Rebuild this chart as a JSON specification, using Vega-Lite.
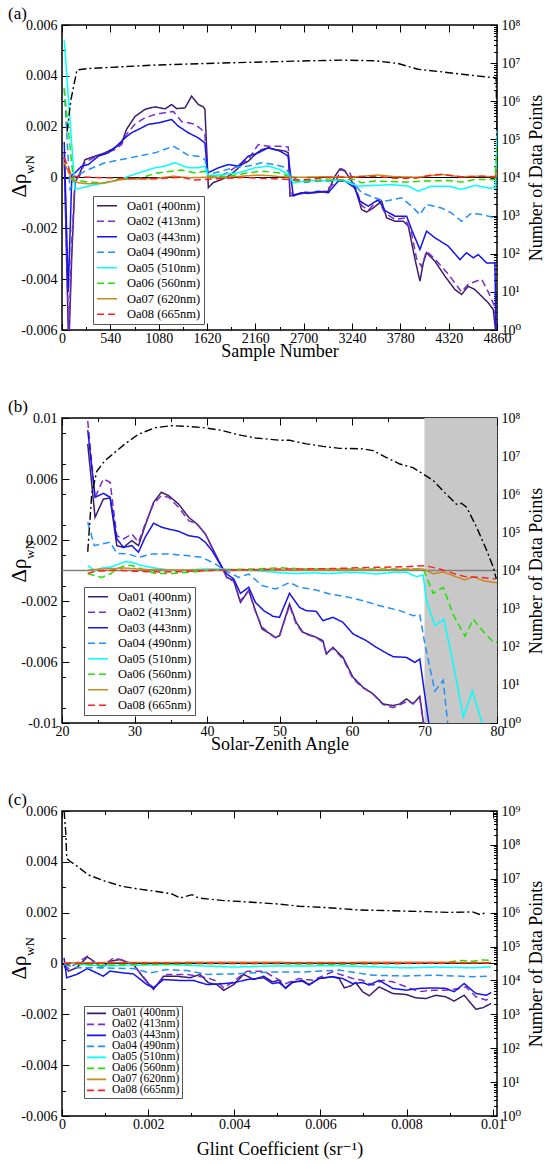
{
"$schema": "https://vega.github.io/schema/vega-lite/v6.json",
"padding": {"left": 7, "top": 4, "right": 0, "bottom": 0},
"config": {
  "font": "Liberation Serif, DejaVu Serif, serif",
  "view": {"stroke": "#000", "strokeWidth": 1.5},
  "axis": {"domain": false, "grid": false, "tickColor": "#000", "tickWidth": 1, "labelFont": "Liberation Serif, DejaVu Serif, serif", "labelFontSize": 14, "labelColor": "#000", "titleFont": "Liberation Serif, DejaVu Serif, serif", "titleFontSize": 18, "titleFontWeight": "normal", "titleColor": "#000", "labelFlush": false, "labelOverlap": false, "labelBound": false},
  "legend": {"labelFont": "Liberation Serif, DejaVu Serif, serif"},
  "title": {"font": "Liberation Serif, DejaVu Serif, serif", "fontSize": 17, "fontWeight": "normal", "anchor": "start", "color": "#000"}
},
"datasets": {
"sa": [
{"b":"Oa01 (400nm)","x":25,"y":0.0008},{"b":"Oa01 (400nm)","x":75,"y":-0.0068},{"b":"Oa01 (400nm)","x":110,"y":-0.003},{"b":"Oa01 (400nm)","x":145,"y":-0.0002},{"b":"Oa01 (400nm)","x":201,"y":0.00018},{"b":"Oa01 (400nm)","x":257,"y":0.0007},{"b":"Oa01 (400nm)","x":369,"y":0.00084},{"b":"Oa01 (400nm)","x":480,"y":0.00097},{"b":"Oa01 (400nm)","x":592,"y":0.00117},{"b":"Oa01 (400nm)","x":666,"y":0.00136},{"b":"Oa01 (400nm)","x":722,"y":0.0019},{"b":"Oa01 (400nm)","x":815,"y":0.0024},{"b":"Oa01 (400nm)","x":927,"y":0.00268},{"b":"Oa01 (400nm)","x":1039,"y":0.00278},{"b":"Oa01 (400nm)","x":1150,"y":0.0027},{"b":"Oa01 (400nm)","x":1225,"y":0.00287},{"b":"Oa01 (400nm)","x":1281,"y":0.00271},{"b":"Oa01 (400nm)","x":1374,"y":0.00274},{"b":"Oa01 (400nm)","x":1448,"y":0.0032},{"b":"Oa01 (400nm)","x":1523,"y":0.00287},{"b":"Oa01 (400nm)","x":1579,"y":0.00278},{"b":"Oa01 (400nm)","x":1597,"y":0.00268},{"b":"Oa01 (400nm)","x":1635,"y":-0.0004},{"b":"Oa01 (400nm)","x":1690,"y":-0.0002},{"b":"Oa01 (400nm)","x":1783,"y":-0.00008},{"b":"Oa01 (400nm)","x":1858,"y":0.00005},{"b":"Oa01 (400nm)","x":1932,"y":0.00025},{"b":"Oa01 (400nm)","x":2007,"y":0.0005},{"b":"Oa01 (400nm)","x":2081,"y":0.00064},{"b":"Oa01 (400nm)","x":2156,"y":0.0009},{"b":"Oa01 (400nm)","x":2230,"y":0.0011},{"b":"Oa01 (400nm)","x":2305,"y":0.00117},{"b":"Oa01 (400nm)","x":2379,"y":0.0011},{"b":"Oa01 (400nm)","x":2491,"y":0.00104},{"b":"Oa01 (400nm)","x":2528,"y":0.00097},{"b":"Oa01 (400nm)","x":2547,"y":-0.00073},{"b":"Oa01 (400nm)","x":2603,"y":-0.00067},{"b":"Oa01 (400nm)","x":2714,"y":-0.00058},{"b":"Oa01 (400nm)","x":2826,"y":-0.0006},{"b":"Oa01 (400nm)","x":2975,"y":-0.00054},{"b":"Oa01 (400nm)","x":3049,"y":0.00005},{"b":"Oa01 (400nm)","x":3105,"y":0.00034},{"b":"Oa01 (400nm)","x":3161,"y":0.00025},{"b":"Oa01 (400nm)","x":3236,"y":-0.00014},{"b":"Oa01 (400nm)","x":3291,"y":-0.0006},{"b":"Oa01 (400nm)","x":3347,"y":-0.00126},{"b":"Oa01 (400nm)","x":3403,"y":-0.00136},{"b":"Oa01 (400nm)","x":3478,"y":-0.0012},{"b":"Oa01 (400nm)","x":3571,"y":-0.00093},{"b":"Oa01 (400nm)","x":3627,"y":-0.00159},{"b":"Oa01 (400nm)","x":3720,"y":-0.00172},{"b":"Oa01 (400nm)","x":3813,"y":-0.00172},{"b":"Oa01 (400nm)","x":3869,"y":-0.00191},{"b":"Oa01 (400nm)","x":3943,"y":-0.0032},{"b":"Oa01 (400nm)","x":3999,"y":-0.00408},{"b":"Oa01 (400nm)","x":4036,"y":-0.00336},{"b":"Oa01 (400nm)","x":4073,"y":-0.00296},{"b":"Oa01 (400nm)","x":4166,"y":-0.00329},{"b":"Oa01 (400nm)","x":4278,"y":-0.00388},{"b":"Oa01 (400nm)","x":4390,"y":-0.00441},{"b":"Oa01 (400nm)","x":4464,"y":-0.0046},{"b":"Oa01 (400nm)","x":4539,"y":-0.00428},{"b":"Oa01 (400nm)","x":4613,"y":-0.00441},{"b":"Oa01 (400nm)","x":4688,"y":-0.00467},{"b":"Oa01 (400nm)","x":4762,"y":-0.00493},{"b":"Oa01 (400nm)","x":4818,"y":-0.00519},{"b":"Oa01 (400nm)","x":4844,"y":-0.006},{"b":"Oa01 (400nm)","x":4860,"y":-0.0075},
{"b":"Oa02 (413nm)","x":25,"y":0.001},{"b":"Oa02 (413nm)","x":75,"y":-0.0062},{"b":"Oa02 (413nm)","x":110,"y":-0.0025},{"b":"Oa02 (413nm)","x":145,"y":-0.0001},{"b":"Oa02 (413nm)","x":201,"y":0.0001},{"b":"Oa02 (413nm)","x":257,"y":0.0006},{"b":"Oa02 (413nm)","x":369,"y":0.0008},{"b":"Oa02 (413nm)","x":480,"y":0.00095},{"b":"Oa02 (413nm)","x":592,"y":0.0011},{"b":"Oa02 (413nm)","x":666,"y":0.0013},{"b":"Oa02 (413nm)","x":722,"y":0.0017},{"b":"Oa02 (413nm)","x":815,"y":0.0021},{"b":"Oa02 (413nm)","x":927,"y":0.00235},{"b":"Oa02 (413nm)","x":1039,"y":0.00248},{"b":"Oa02 (413nm)","x":1188,"y":0.00257},{"b":"Oa02 (413nm)","x":1244,"y":0.0026},{"b":"Oa02 (413nm)","x":1337,"y":0.0022},{"b":"Oa02 (413nm)","x":1411,"y":0.00215},{"b":"Oa02 (413nm)","x":1486,"y":0.00209},{"b":"Oa02 (413nm)","x":1560,"y":0.00189},{"b":"Oa02 (413nm)","x":1597,"y":0.00169},{"b":"Oa02 (413nm)","x":1627,"y":0.0001},{"b":"Oa02 (413nm)","x":1746,"y":0.00005},{"b":"Oa02 (413nm)","x":1858,"y":0.0002},{"b":"Oa02 (413nm)","x":1932,"y":0.0004},{"b":"Oa02 (413nm)","x":2081,"y":0.00071},{"b":"Oa02 (413nm)","x":2193,"y":0.0013},{"b":"Oa02 (413nm)","x":2305,"y":0.00123},{"b":"Oa02 (413nm)","x":2435,"y":0.00123},{"b":"Oa02 (413nm)","x":2528,"y":0.0012},{"b":"Oa02 (413nm)","x":2547,"y":-0.0006},{"b":"Oa02 (413nm)","x":2603,"y":-0.00067},{"b":"Oa02 (413nm)","x":2938,"y":-0.00054},{"b":"Oa02 (413nm)","x":3049,"y":-0.0002},{"b":"Oa02 (413nm)","x":3124,"y":0.00034},{"b":"Oa02 (413nm)","x":3217,"y":0.00018},{"b":"Oa02 (413nm)","x":3291,"y":-0.0005},{"b":"Oa02 (413nm)","x":3347,"y":-0.0011},{"b":"Oa02 (413nm)","x":3422,"y":-0.00129},{"b":"Oa02 (413nm)","x":3533,"y":-0.00087},{"b":"Oa02 (413nm)","x":3608,"y":-0.0014},{"b":"Oa02 (413nm)","x":3720,"y":-0.00165},{"b":"Oa02 (413nm)","x":3831,"y":-0.00159},{"b":"Oa02 (413nm)","x":3906,"y":-0.0022},{"b":"Oa02 (413nm)","x":3962,"y":-0.0032},{"b":"Oa02 (413nm)","x":4017,"y":-0.0035},{"b":"Oa02 (413nm)","x":4073,"y":-0.0029},{"b":"Oa02 (413nm)","x":4166,"y":-0.0032},{"b":"Oa02 (413nm)","x":4315,"y":-0.0038},{"b":"Oa02 (413nm)","x":4464,"y":-0.0045},{"b":"Oa02 (413nm)","x":4539,"y":-0.0042},{"b":"Oa02 (413nm)","x":4688,"y":-0.004},{"b":"Oa02 (413nm)","x":4762,"y":-0.0045},{"b":"Oa02 (413nm)","x":4837,"y":-0.0051},{"b":"Oa02 (413nm)","x":4860,"y":-0.0068},
{"b":"Oa03 (443nm)","x":25,"y":0.0014},{"b":"Oa03 (443nm)","x":70,"y":-0.0045},{"b":"Oa03 (443nm)","x":110,"y":0.0001},{"b":"Oa03 (443nm)","x":145,"y":0.00018},{"b":"Oa03 (443nm)","x":220,"y":0.00045},{"b":"Oa03 (443nm)","x":294,"y":0.00051},{"b":"Oa03 (443nm)","x":406,"y":0.00084},{"b":"Oa03 (443nm)","x":518,"y":0.00097},{"b":"Oa03 (443nm)","x":629,"y":0.0013},{"b":"Oa03 (443nm)","x":704,"y":0.00156},{"b":"Oa03 (443nm)","x":778,"y":0.00176},{"b":"Oa03 (443nm)","x":853,"y":0.00189},{"b":"Oa03 (443nm)","x":964,"y":0.00209},{"b":"Oa03 (443nm)","x":1076,"y":0.00215},{"b":"Oa03 (443nm)","x":1225,"y":0.00228},{"b":"Oa03 (443nm)","x":1299,"y":0.00202},{"b":"Oa03 (443nm)","x":1411,"y":0.00176},{"b":"Oa03 (443nm)","x":1523,"y":0.00156},{"b":"Oa03 (443nm)","x":1597,"y":0.00136},{"b":"Oa03 (443nm)","x":1627,"y":0.00018},{"b":"Oa03 (443nm)","x":1746,"y":0.00038},{"b":"Oa03 (443nm)","x":1858,"y":0.00051},{"b":"Oa03 (443nm)","x":1970,"y":0.00045},{"b":"Oa03 (443nm)","x":2081,"y":0.00084},{"b":"Oa03 (443nm)","x":2193,"y":0.00097},{"b":"Oa03 (443nm)","x":2305,"y":0.00117},{"b":"Oa03 (443nm)","x":2435,"y":0.00104},{"b":"Oa03 (443nm)","x":2528,"y":0.00084},{"b":"Oa03 (443nm)","x":2584,"y":-0.00073},{"b":"Oa03 (443nm)","x":2677,"y":-0.0006},{"b":"Oa03 (443nm)","x":2752,"y":-0.00063},{"b":"Oa03 (443nm)","x":2863,"y":-0.00054},{"b":"Oa03 (443nm)","x":2975,"y":-0.0006},{"b":"Oa03 (443nm)","x":3087,"y":-0.00014},{"b":"Oa03 (443nm)","x":3161,"y":-0.00014},{"b":"Oa03 (443nm)","x":3273,"y":-0.00041},{"b":"Oa03 (443nm)","x":3329,"y":-0.00093},{"b":"Oa03 (443nm)","x":3422,"y":-0.00113},{"b":"Oa03 (443nm)","x":3533,"y":-0.00087},{"b":"Oa03 (443nm)","x":3608,"y":-0.0013},{"b":"Oa03 (443nm)","x":3720,"y":-0.00152},{"b":"Oa03 (443nm)","x":3850,"y":-0.00152},{"b":"Oa03 (443nm)","x":3906,"y":-0.00205},{"b":"Oa03 (443nm)","x":3999,"y":-0.00283},{"b":"Oa03 (443nm)","x":4073,"y":-0.00211},{"b":"Oa03 (443nm)","x":4166,"y":-0.00237},{"b":"Oa03 (443nm)","x":4315,"y":-0.0027},{"b":"Oa03 (443nm)","x":4446,"y":-0.00323},{"b":"Oa03 (443nm)","x":4520,"y":-0.00296},{"b":"Oa03 (443nm)","x":4595,"y":-0.00316},{"b":"Oa03 (443nm)","x":4650,"y":-0.00303},{"b":"Oa03 (443nm)","x":4744,"y":-0.00336},{"b":"Oa03 (443nm)","x":4837,"y":-0.00336},{"b":"Oa03 (443nm)","x":4855,"y":-0.0075},
{"b":"Oa04 (490nm)","x":25,"y":0.0035},{"b":"Oa04 (490nm)","x":89,"y":-0.0005},{"b":"Oa04 (490nm)","x":145,"y":0.00005},{"b":"Oa04 (490nm)","x":294,"y":0.00031},{"b":"Oa04 (490nm)","x":480,"y":0.00058},{"b":"Oa04 (490nm)","x":666,"y":0.00071},{"b":"Oa04 (490nm)","x":853,"y":0.00084},{"b":"Oa04 (490nm)","x":1039,"y":0.00097},{"b":"Oa04 (490nm)","x":1244,"y":0.00123},{"b":"Oa04 (490nm)","x":1337,"y":0.00104},{"b":"Oa04 (490nm)","x":1411,"y":0.00087},{"b":"Oa04 (490nm)","x":1523,"y":0.00084},{"b":"Oa04 (490nm)","x":1597,"y":0.00071},{"b":"Oa04 (490nm)","x":1635,"y":0.00012},{"b":"Oa04 (490nm)","x":1783,"y":0.00025},{"b":"Oa04 (490nm)","x":1932,"y":0.0004},{"b":"Oa04 (490nm)","x":2081,"y":0.00045},{"b":"Oa04 (490nm)","x":2230,"y":0.00058},{"b":"Oa04 (490nm)","x":2379,"y":0.00051},{"b":"Oa04 (490nm)","x":2491,"y":0.0004},{"b":"Oa04 (490nm)","x":2565,"y":0.00005},{"b":"Oa04 (490nm)","x":2677,"y":-0.00021},{"b":"Oa04 (490nm)","x":2826,"y":-0.00014},{"b":"Oa04 (490nm)","x":3012,"y":-0.00014},{"b":"Oa04 (490nm)","x":3124,"y":-0.00008},{"b":"Oa04 (490nm)","x":3273,"y":-0.00028},{"b":"Oa04 (490nm)","x":3347,"y":-0.0006},{"b":"Oa04 (490nm)","x":3496,"y":-0.0008},{"b":"Oa04 (490nm)","x":3608,"y":-0.00093},{"b":"Oa04 (490nm)","x":3794,"y":-0.0008},{"b":"Oa04 (490nm)","x":3906,"y":-0.00113},{"b":"Oa04 (490nm)","x":3999,"y":-0.00146},{"b":"Oa04 (490nm)","x":4073,"y":-0.00106},{"b":"Oa04 (490nm)","x":4241,"y":-0.0012},{"b":"Oa04 (490nm)","x":4353,"y":-0.0014},{"b":"Oa04 (490nm)","x":4464,"y":-0.00172},{"b":"Oa04 (490nm)","x":4576,"y":-0.0014},{"b":"Oa04 (490nm)","x":4688,"y":-0.00146},{"b":"Oa04 (490nm)","x":4850,"y":-0.00159},
{"b":"Oa05 (510nm)","x":25,"y":0.0054},{"b":"Oa05 (510nm)","x":145,"y":-0.00047},{"b":"Oa05 (510nm)","x":294,"y":-0.00034},{"b":"Oa05 (510nm)","x":480,"y":-0.00021},{"b":"Oa05 (510nm)","x":666,"y":-0.00005},{"b":"Oa05 (510nm)","x":853,"y":0.00018},{"b":"Oa05 (510nm)","x":1039,"y":0.00038},{"b":"Oa05 (510nm)","x":1150,"y":0.00045},{"b":"Oa05 (510nm)","x":1262,"y":0.00058},{"b":"Oa05 (510nm)","x":1411,"y":0.00038},{"b":"Oa05 (510nm)","x":1523,"y":0.00038},{"b":"Oa05 (510nm)","x":1597,"y":0.00045},{"b":"Oa05 (510nm)","x":1635,"y":0.00005},{"b":"Oa05 (510nm)","x":1783,"y":0.00012},{"b":"Oa05 (510nm)","x":1970,"y":0.00018},{"b":"Oa05 (510nm)","x":2156,"y":0.00038},{"b":"Oa05 (510nm)","x":2305,"y":0.00045},{"b":"Oa05 (510nm)","x":2435,"y":0.00031},{"b":"Oa05 (510nm)","x":2528,"y":0.00012},{"b":"Oa05 (510nm)","x":2584,"y":-0.00021},{"b":"Oa05 (510nm)","x":2752,"y":-0.00012},{"b":"Oa05 (510nm)","x":2938,"y":-0.00012},{"b":"Oa05 (510nm)","x":3124,"y":-0.0001},{"b":"Oa05 (510nm)","x":3310,"y":-0.00034},{"b":"Oa05 (510nm)","x":3496,"y":-0.00031},{"b":"Oa05 (510nm)","x":3682,"y":-0.00028},{"b":"Oa05 (510nm)","x":3869,"y":-0.00034},{"b":"Oa05 (510nm)","x":3980,"y":-0.00054},{"b":"Oa05 (510nm)","x":4129,"y":-0.00034},{"b":"Oa05 (510nm)","x":4315,"y":-0.00034},{"b":"Oa05 (510nm)","x":4464,"y":-0.00047},{"b":"Oa05 (510nm)","x":4613,"y":-0.00031},{"b":"Oa05 (510nm)","x":4762,"y":-0.00041},{"b":"Oa05 (510nm)","x":4844,"y":-0.00041},{"b":"Oa05 (510nm)","x":4860,"y":0.0019},
{"b":"Oa06 (560nm)","x":25,"y":0.0035},{"b":"Oa06 (560nm)","x":127,"y":-0.0001},{"b":"Oa06 (560nm)","x":294,"y":-0.00018},{"b":"Oa06 (560nm)","x":480,"y":-0.00021},{"b":"Oa06 (560nm)","x":666,"y":-0.00005},{"b":"Oa06 (560nm)","x":853,"y":-0.00005},{"b":"Oa06 (560nm)","x":1039,"y":0.00016},{"b":"Oa06 (560nm)","x":1225,"y":0.00025},{"b":"Oa06 (560nm)","x":1337,"y":0.00029},{"b":"Oa06 (560nm)","x":1486,"y":0.00018},{"b":"Oa06 (560nm)","x":1597,"y":0.00025},{"b":"Oa06 (560nm)","x":1635,"y":0.00005},{"b":"Oa06 (560nm)","x":1858,"y":0.00005},{"b":"Oa06 (560nm)","x":2081,"y":0.00018},{"b":"Oa06 (560nm)","x":2230,"y":0.00025},{"b":"Oa06 (560nm)","x":2435,"y":0.00018},{"b":"Oa06 (560nm)","x":2528,"y":0.00005},{"b":"Oa06 (560nm)","x":2603,"y":-0.00014},{"b":"Oa06 (560nm)","x":2938,"y":-0.0001},{"b":"Oa06 (560nm)","x":3273,"y":-0.00008},{"b":"Oa06 (560nm)","x":3347,"y":-0.00021},{"b":"Oa06 (560nm)","x":3496,"y":-0.00014},{"b":"Oa06 (560nm)","x":3869,"y":-0.00018},{"b":"Oa06 (560nm)","x":4055,"y":-0.00014},{"b":"Oa06 (560nm)","x":4315,"y":-0.00012},{"b":"Oa06 (560nm)","x":4464,"y":-0.00018},{"b":"Oa06 (560nm)","x":4613,"y":-0.00008},{"b":"Oa06 (560nm)","x":4837,"y":-0.00008},{"b":"Oa06 (560nm)","x":4860,"y":0.0012},
{"b":"Oa07 (620nm)","x":25,"y":0.0006},{"b":"Oa07 (620nm)","x":108,"y":-0.00008},{"b":"Oa07 (620nm)","x":182,"y":-0.00021},{"b":"Oa07 (620nm)","x":294,"y":-0.00025},{"b":"Oa07 (620nm)","x":480,"y":-0.00021},{"b":"Oa07 (620nm)","x":666,"y":-0.00008},{"b":"Oa07 (620nm)","x":853,"y":-0.00005},{"b":"Oa07 (620nm)","x":1039,"y":-0.00004},{"b":"Oa07 (620nm)","x":1244,"y":0.00005},{"b":"Oa07 (620nm)","x":1411,"y":-0.00001},{"b":"Oa07 (620nm)","x":1597,"y":0.00001},{"b":"Oa07 (620nm)","x":1783,"y":-0.00001},{"b":"Oa07 (620nm)","x":2007,"y":0.00005},{"b":"Oa07 (620nm)","x":2156,"y":0.00009},{"b":"Oa07 (620nm)","x":2305,"y":0.00008},{"b":"Oa07 (620nm)","x":2435,"y":0.00003},{"b":"Oa07 (620nm)","x":2677,"y":0.00001},{"b":"Oa07 (620nm)","x":2938,"y":0.00003},{"b":"Oa07 (620nm)","x":3236,"y":0.00001},{"b":"Oa07 (620nm)","x":3533,"y":0.0001},{"b":"Oa07 (620nm)","x":3720,"y":0.00003},{"b":"Oa07 (620nm)","x":3980,"y":0.00001},{"b":"Oa07 (620nm)","x":4241,"y":0.00012},{"b":"Oa07 (620nm)","x":4446,"y":0.00003},{"b":"Oa07 (620nm)","x":4688,"y":0.00005},{"b":"Oa07 (620nm)","x":4837,"y":0.00003},{"b":"Oa07 (620nm)","x":4860,"y":0.0002},
{"b":"Oa08 (665nm)","x":25,"y":0.0008},{"b":"Oa08 (665nm)","x":108,"y":0.00005},{"b":"Oa08 (665nm)","x":294,"y":0.00001},{"b":"Oa08 (665nm)","x":666,"y":-0.00003},{"b":"Oa08 (665nm)","x":1039,"y":-0.00005},{"b":"Oa08 (665nm)","x":1337,"y":0.00001},{"b":"Oa08 (665nm)","x":1486,"y":-0.0001},{"b":"Oa08 (665nm)","x":1710,"y":-0.00005},{"b":"Oa08 (665nm)","x":2007,"y":0},{"b":"Oa08 (665nm)","x":2379,"y":-0.00005},{"b":"Oa08 (665nm)","x":2677,"y":-0.0001},{"b":"Oa08 (665nm)","x":2938,"y":-0.00001},{"b":"Oa08 (665nm)","x":3236,"y":0.00003},{"b":"Oa08 (665nm)","x":3496,"y":0.00005},{"b":"Oa08 (665nm)","x":3720,"y":-0.00003},{"b":"Oa08 (665nm)","x":3943,"y":-0.00003},{"b":"Oa08 (665nm)","x":4129,"y":0.0001},{"b":"Oa08 (665nm)","x":4241,"y":0.00012},{"b":"Oa08 (665nm)","x":4464,"y":0.00003},{"b":"Oa08 (665nm)","x":4688,"y":0.00005},{"b":"Oa08 (665nm)","x":4837,"y":0.00001},{"b":"Oa08 (665nm)","x":4860,"y":0.0003}
],
"na": [
{"x":56,"n":160000},{"x":100,"n":1100000},{"x":167,"n":6600000},{"x":290,"n":7200000},{"x":1040,"n":8900000},{"x":1600,"n":9800000},{"x":2435,"n":11000000},{"x":2750,"n":11500000},{"x":3127,"n":12000000},{"x":3497,"n":11500000},{"x":3754,"n":9800000},{"x":3977,"n":6900000},{"x":4245,"n":5900000},{"x":4469,"n":5100000},{"x":4760,"n":4300000},{"x":4850,"n":4100000},{"x":4860,"n":100000}
],
"sb": [
{"b":"Oa01 (400nm)","x":23.55,"y":0.0083},{"b":"Oa01 (400nm)","x":24.56,"y":0.00349},{"b":"Oa01 (400nm)","x":25.71,"y":0.00469},{"b":"Oa01 (400nm)","x":26.64,"y":0.00475},{"b":"Oa01 (400nm)","x":27.56,"y":0.00163},{"b":"Oa01 (400nm)","x":28.48,"y":0.00152},{"b":"Oa01 (400nm)","x":29.63,"y":0.00196},{"b":"Oa01 (400nm)","x":30.55,"y":0.00163},{"b":"Oa01 (400nm)","x":31.47,"y":0.00294},{"b":"Oa01 (400nm)","x":32.63,"y":0.00447},{"b":"Oa01 (400nm)","x":33.69,"y":0.00513},{"b":"Oa01 (400nm)","x":34.7,"y":0.00491},{"b":"Oa01 (400nm)","x":36.08,"y":0.00436},{"b":"Oa01 (400nm)","x":37.47,"y":0.00349},{"b":"Oa01 (400nm)","x":38.62,"y":0.00305},{"b":"Oa01 (400nm)","x":39.77,"y":0.0024},{"b":"Oa01 (400nm)","x":40.69,"y":0.00152},{"b":"Oa01 (400nm)","x":42.07,"y":0.00021},{"b":"Oa01 (400nm)","x":42.76,"y":-0.00045},{"b":"Oa01 (400nm)","x":43.69,"y":-0.00067},{"b":"Oa01 (400nm)","x":44.61,"y":-0.00209},{"b":"Oa01 (400nm)","x":45.76,"y":-0.0013},{"b":"Oa01 (400nm)","x":46.68,"y":-0.00263},{"b":"Oa01 (400nm)","x":47.6,"y":-0.00384},{"b":"Oa01 (400nm)","x":48.76,"y":-0.00416},{"b":"Oa01 (400nm)","x":49.45,"y":-0.0044},{"b":"Oa01 (400nm)","x":50.0,"y":-0.00427},{"b":"Oa01 (400nm)","x":51.38,"y":-0.0022},{"b":"Oa01 (400nm)","x":52.3,"y":-0.0034},{"b":"Oa01 (400nm)","x":53.23,"y":-0.00405},{"b":"Oa01 (400nm)","x":55.07,"y":-0.00438},{"b":"Oa01 (400nm)","x":55.99,"y":-0.0046},{"b":"Oa01 (400nm)","x":56.45,"y":-0.00548},{"b":"Oa01 (400nm)","x":57.37,"y":-0.00504},{"b":"Oa01 (400nm)","x":58.76,"y":-0.0057},{"b":"Oa01 (400nm)","x":60.14,"y":-0.007},{"b":"Oa01 (400nm)","x":61.52,"y":-0.00766},{"b":"Oa01 (400nm)","x":62.9,"y":-0.00809},{"b":"Oa01 (400nm)","x":64.29,"y":-0.00875},{"b":"Oa01 (400nm)","x":65.67,"y":-0.00886},{"b":"Oa01 (400nm)","x":66.59,"y":-0.00875},{"b":"Oa01 (400nm)","x":67.51,"y":-0.00842},{"b":"Oa01 (400nm)","x":68.43,"y":-0.00875},{"b":"Oa01 (400nm)","x":69.35,"y":-0.00826},{"b":"Oa01 (400nm)","x":69.82,"y":-0.00985},{"b":"Oa01 (400nm)","x":70.1,"y":-0.0105},
{"b":"Oa02 (413nm)","x":23.55,"y":0.0098},{"b":"Oa02 (413nm)","x":24.56,"y":0.0048},{"b":"Oa02 (413nm)","x":25.71,"y":0.006},{"b":"Oa02 (413nm)","x":26.64,"y":0.00578},{"b":"Oa02 (413nm)","x":27.56,"y":0.00228},{"b":"Oa02 (413nm)","x":28.48,"y":0.00207},{"b":"Oa02 (413nm)","x":29.63,"y":0.0024},{"b":"Oa02 (413nm)","x":30.55,"y":0.00185},{"b":"Oa02 (413nm)","x":31.47,"y":0.00305},{"b":"Oa02 (413nm)","x":32.63,"y":0.00436},{"b":"Oa02 (413nm)","x":33.69,"y":0.00491},{"b":"Oa02 (413nm)","x":34.7,"y":0.0048},{"b":"Oa02 (413nm)","x":36.08,"y":0.00414},{"b":"Oa02 (413nm)","x":37.47,"y":0.00327},{"b":"Oa02 (413nm)","x":38.62,"y":0.00305},{"b":"Oa02 (413nm)","x":39.77,"y":0.0024},{"b":"Oa02 (413nm)","x":40.69,"y":0.0015},{"b":"Oa02 (413nm)","x":42.07,"y":0.0002},{"b":"Oa02 (413nm)","x":42.76,"y":-0.0005},{"b":"Oa02 (413nm)","x":43.69,"y":-0.0007},{"b":"Oa02 (413nm)","x":44.61,"y":-0.002},{"b":"Oa02 (413nm)","x":45.76,"y":-0.0013},{"b":"Oa02 (413nm)","x":46.68,"y":-0.0027},{"b":"Oa02 (413nm)","x":47.6,"y":-0.0037},{"b":"Oa02 (413nm)","x":48.76,"y":-0.0042},{"b":"Oa02 (413nm)","x":49.45,"y":-0.0044},{"b":"Oa02 (413nm)","x":50.0,"y":-0.0043},{"b":"Oa02 (413nm)","x":51.38,"y":-0.0023},{"b":"Oa02 (413nm)","x":52.3,"y":-0.0035},{"b":"Oa02 (413nm)","x":53.23,"y":-0.0041},{"b":"Oa02 (413nm)","x":55.07,"y":-0.0044},{"b":"Oa02 (413nm)","x":55.99,"y":-0.0047},{"b":"Oa02 (413nm)","x":56.45,"y":-0.0054},{"b":"Oa02 (413nm)","x":57.37,"y":-0.0051},{"b":"Oa02 (413nm)","x":58.76,"y":-0.0058},{"b":"Oa02 (413nm)","x":60.14,"y":-0.0071},{"b":"Oa02 (413nm)","x":61.52,"y":-0.0077},{"b":"Oa02 (413nm)","x":62.9,"y":-0.0081},{"b":"Oa02 (413nm)","x":64.29,"y":-0.0088},{"b":"Oa02 (413nm)","x":65.67,"y":-0.009},{"b":"Oa02 (413nm)","x":66.59,"y":-0.0088},{"b":"Oa02 (413nm)","x":67.51,"y":-0.0086},{"b":"Oa02 (413nm)","x":68.43,"y":-0.0087},{"b":"Oa02 (413nm)","x":69.35,"y":-0.0084},{"b":"Oa02 (413nm)","x":69.82,"y":-0.0099},{"b":"Oa02 (413nm)","x":70.1,"y":-0.0105},
{"b":"Oa03 (443nm)","x":23.55,"y":0.0092},{"b":"Oa03 (443nm)","x":24.56,"y":0.0048},{"b":"Oa03 (443nm)","x":25.71,"y":0.00506},{"b":"Oa03 (443nm)","x":26.64,"y":0.0048},{"b":"Oa03 (443nm)","x":27.56,"y":0.00207},{"b":"Oa03 (443nm)","x":28.48,"y":0.00152},{"b":"Oa03 (443nm)","x":29.63,"y":0.00163},{"b":"Oa03 (443nm)","x":30.55,"y":0.0012},{"b":"Oa03 (443nm)","x":31.47,"y":0.00218},{"b":"Oa03 (443nm)","x":32.63,"y":0.0031},{"b":"Oa03 (443nm)","x":33.78,"y":0.00283},{"b":"Oa03 (443nm)","x":34.7,"y":0.00272},{"b":"Oa03 (443nm)","x":36.08,"y":0.00257},{"b":"Oa03 (443nm)","x":37.47,"y":0.00228},{"b":"Oa03 (443nm)","x":38.85,"y":0.00218},{"b":"Oa03 (443nm)","x":39.77,"y":0.00185},{"b":"Oa03 (443nm)","x":40.69,"y":0.0013},{"b":"Oa03 (443nm)","x":42.07,"y":0.00021},{"b":"Oa03 (443nm)","x":42.76,"y":-0.00023},{"b":"Oa03 (443nm)","x":43.69,"y":-0.00056},{"b":"Oa03 (443nm)","x":44.61,"y":-0.0015},{"b":"Oa03 (443nm)","x":45.76,"y":-0.0011},{"b":"Oa03 (443nm)","x":46.68,"y":-0.00209},{"b":"Oa03 (443nm)","x":47.83,"y":-0.00263},{"b":"Oa03 (443nm)","x":48.76,"y":-0.0029},{"b":"Oa03 (443nm)","x":49.08,"y":-0.003},{"b":"Oa03 (443nm)","x":50.0,"y":-0.00307},{"b":"Oa03 (443nm)","x":51.38,"y":-0.0015},{"b":"Oa03 (443nm)","x":52.76,"y":-0.00242},{"b":"Oa03 (443nm)","x":53.69,"y":-0.00263},{"b":"Oa03 (443nm)","x":55.07,"y":-0.00268},{"b":"Oa03 (443nm)","x":55.99,"y":-0.00329},{"b":"Oa03 (443nm)","x":57.37,"y":-0.00307},{"b":"Oa03 (443nm)","x":58.76,"y":-0.0034},{"b":"Oa03 (443nm)","x":60.14,"y":-0.00416},{"b":"Oa03 (443nm)","x":61.98,"y":-0.0046},{"b":"Oa03 (443nm)","x":63.36,"y":-0.00504},{"b":"Oa03 (443nm)","x":64.29,"y":-0.0053},{"b":"Oa03 (443nm)","x":65.67,"y":-0.00565},{"b":"Oa03 (443nm)","x":67.51,"y":-0.0057},{"b":"Oa03 (443nm)","x":68.66,"y":-0.00602},{"b":"Oa03 (443nm)","x":69.35,"y":-0.00581},{"b":"Oa03 (443nm)","x":70.05,"y":-0.0082},{"b":"Oa03 (443nm)","x":70.74,"y":-0.0105},
{"b":"Oa04 (490nm)","x":23.55,"y":0.00316},{"b":"Oa04 (490nm)","x":24.47,"y":0.00163},{"b":"Oa04 (490nm)","x":25.48,"y":0.00174},{"b":"Oa04 (490nm)","x":26.64,"y":0.00185},{"b":"Oa04 (490nm)","x":27.56,"y":0.00113},{"b":"Oa04 (490nm)","x":29.17,"y":0.00108},{"b":"Oa04 (490nm)","x":30.55,"y":0.00086},{"b":"Oa04 (490nm)","x":32.4,"y":0.00108},{"b":"Oa04 (490nm)","x":34.7,"y":0.00108},{"b":"Oa04 (490nm)","x":37.47,"y":0.00097},{"b":"Oa04 (490nm)","x":39.31,"y":0.00086},{"b":"Oa04 (490nm)","x":41.15,"y":0.00043},{"b":"Oa04 (490nm)","x":42.53,"y":0},{"b":"Oa04 (490nm)","x":44.38,"y":-0.00045},{"b":"Oa04 (490nm)","x":45.76,"y":-0.00023},{"b":"Oa04 (490nm)","x":47.6,"y":-0.00099},{"b":"Oa04 (490nm)","x":49.45,"y":-0.00121},{"b":"Oa04 (490nm)","x":50.0,"y":-0.0011},{"b":"Oa04 (490nm)","x":51.38,"y":-0.00078},{"b":"Oa04 (490nm)","x":52.76,"y":-0.0011},{"b":"Oa04 (490nm)","x":55.07,"y":-0.00128},{"b":"Oa04 (490nm)","x":56.91,"y":-0.00154},{"b":"Oa04 (490nm)","x":59.22,"y":-0.00172},{"b":"Oa04 (490nm)","x":61.52,"y":-0.00198},{"b":"Oa04 (490nm)","x":63.82,"y":-0.00231},{"b":"Oa04 (490nm)","x":66.59,"y":-0.00263},{"b":"Oa04 (490nm)","x":68.43,"y":-0.00296},{"b":"Oa04 (490nm)","x":69.35,"y":-0.0029},{"b":"Oa04 (490nm)","x":70.05,"y":-0.00482},{"b":"Oa04 (490nm)","x":71.43,"y":-0.0079},{"b":"Oa04 (490nm)","x":72.58,"y":-0.0072},{"b":"Oa04 (490nm)","x":73.3,"y":-0.0105},
{"b":"Oa05 (510nm)","x":23.55,"y":0.00032},{"b":"Oa05 (510nm)","x":24.56,"y":0},{"b":"Oa05 (510nm)","x":25.48,"y":0.00016},{"b":"Oa05 (510nm)","x":26.64,"y":0.00021},{"b":"Oa05 (510nm)","x":28.71,"y":0.00058},{"b":"Oa05 (510nm)","x":29.63,"y":0.00054},{"b":"Oa05 (510nm)","x":31.01,"y":0.00032},{"b":"Oa05 (510nm)","x":32.86,"y":0.00016},{"b":"Oa05 (510nm)","x":34.7,"y":0.00005},{"b":"Oa05 (510nm)","x":37.47,"y":0.00005},{"b":"Oa05 (510nm)","x":39.77,"y":0.0001},{"b":"Oa05 (510nm)","x":42.07,"y":0.0001},{"b":"Oa05 (510nm)","x":44.38,"y":0.00005},{"b":"Oa05 (510nm)","x":46.68,"y":-0.00001},{"b":"Oa05 (510nm)","x":49.45,"y":-0.00012},{"b":"Oa05 (510nm)","x":50.0,"y":-0.00015},{"b":"Oa05 (510nm)","x":52.3,"y":-0.0002},{"b":"Oa05 (510nm)","x":54.6,"y":-0.00015},{"b":"Oa05 (510nm)","x":56.9,"y":-0.0002},{"b":"Oa05 (510nm)","x":59.2,"y":-0.00012},{"b":"Oa05 (510nm)","x":61.5,"y":-0.00015},{"b":"Oa05 (510nm)","x":63.4,"y":-0.00023},{"b":"Oa05 (510nm)","x":65.7,"y":-0.00012},{"b":"Oa05 (510nm)","x":67.5,"y":-0.00012},{"b":"Oa05 (510nm)","x":68.9,"y":-0.0004},{"b":"Oa05 (510nm)","x":69.82,"y":-0.0003},{"b":"Oa05 (510nm)","x":70.28,"y":-0.002},{"b":"Oa05 (510nm)","x":71.43,"y":-0.0036},{"b":"Oa05 (510nm)","x":72.67,"y":-0.0032},{"b":"Oa05 (510nm)","x":73.96,"y":-0.0061},{"b":"Oa05 (510nm)","x":75.35,"y":-0.0096},{"b":"Oa05 (510nm)","x":76.6,"y":-0.0079},{"b":"Oa05 (510nm)","x":77.88,"y":-0.0099},{"b":"Oa05 (510nm)","x":78.5,"y":-0.0105},
{"b":"Oa06 (560nm)","x":23.55,"y":-0.0002},{"b":"Oa06 (560nm)","x":24.56,"y":-0.00034},{"b":"Oa06 (560nm)","x":25.48,"y":-0.00045},{"b":"Oa06 (560nm)","x":26.64,"y":-0.00023},{"b":"Oa06 (560nm)","x":27.56,"y":0.0001},{"b":"Oa06 (560nm)","x":28.71,"y":0.00032},{"b":"Oa06 (560nm)","x":29.63,"y":0.00032},{"b":"Oa06 (560nm)","x":31.01,"y":0.0001},{"b":"Oa06 (560nm)","x":32.86,"y":-0.00019},{"b":"Oa06 (560nm)","x":35.16,"y":-0.00019},{"b":"Oa06 (560nm)","x":37.47,"y":-0.00012},{"b":"Oa06 (560nm)","x":39.77,"y":-0.00001},{"b":"Oa06 (560nm)","x":42.07,"y":0.00003},{"b":"Oa06 (560nm)","x":44.38,"y":0.00008},{"b":"Oa06 (560nm)","x":46.68,"y":0.0001},{"b":"Oa06 (560nm)","x":50.0,"y":0.00018},{"b":"Oa06 (560nm)","x":53.69,"y":0.0001},{"b":"Oa06 (560nm)","x":58.29,"y":0.0001},{"b":"Oa06 (560nm)","x":62.9,"y":0.0001},{"b":"Oa06 (560nm)","x":67.51,"y":0.0001},{"b":"Oa06 (560nm)","x":69.82,"y":0.0001},{"b":"Oa06 (560nm)","x":71.2,"y":-0.0015},{"b":"Oa06 (560nm)","x":72.58,"y":-0.0011},{"b":"Oa06 (560nm)","x":73.96,"y":-0.0029},{"b":"Oa06 (560nm)","x":75.58,"y":-0.0043},{"b":"Oa06 (560nm)","x":76.73,"y":-0.0032},{"b":"Oa06 (560nm)","x":78.11,"y":-0.004},{"b":"Oa06 (560nm)","x":79.49,"y":-0.0047},{"b":"Oa06 (560nm)","x":80,"y":-0.0047},
{"b":"Oa07 (620nm)","x":23.55,"y":0.00003},{"b":"Oa07 (620nm)","x":25.48,"y":0.0001},{"b":"Oa07 (620nm)","x":28.71,"y":0.00016},{"b":"Oa07 (620nm)","x":31,"y":0.00008},{"b":"Oa07 (620nm)","x":35,"y":0.00003},{"b":"Oa07 (620nm)","x":40,"y":0.00003},{"b":"Oa07 (620nm)","x":45,"y":0.00003},{"b":"Oa07 (620nm)","x":50,"y":0.00003},{"b":"Oa07 (620nm)","x":55,"y":0.00003},{"b":"Oa07 (620nm)","x":60,"y":0.00005},{"b":"Oa07 (620nm)","x":65,"y":0.00005},{"b":"Oa07 (620nm)","x":69.8,"y":0.0001},{"b":"Oa07 (620nm)","x":70.5,"y":-0.00005},{"b":"Oa07 (620nm)","x":71.2,"y":-0.00021},{"b":"Oa07 (620nm)","x":72.58,"y":-0.0001},{"b":"Oa07 (620nm)","x":73.96,"y":-0.00034},{"b":"Oa07 (620nm)","x":75.58,"y":-0.00062},{"b":"Oa07 (620nm)","x":76.73,"y":-0.0004},{"b":"Oa07 (620nm)","x":78.11,"y":-0.00067},{"b":"Oa07 (620nm)","x":79.49,"y":-0.00078},{"b":"Oa07 (620nm)","x":80,"y":-0.0008},
{"b":"Oa08 (665nm)","x":23.55,"y":-0.00019},{"b":"Oa08 (665nm)","x":24.56,"y":-0.00005},{"b":"Oa08 (665nm)","x":27.33,"y":0.00003},{"b":"Oa08 (665nm)","x":30.09,"y":-0.00005},{"b":"Oa08 (665nm)","x":33.78,"y":-0.0001},{"b":"Oa08 (665nm)","x":37.47,"y":-0.00005},{"b":"Oa08 (665nm)","x":42.07,"y":0.00003},{"b":"Oa08 (665nm)","x":46.68,"y":0.00005},{"b":"Oa08 (665nm)","x":50,"y":0.0001},{"b":"Oa08 (665nm)","x":53.69,"y":0.0001},{"b":"Oa08 (665nm)","x":58.29,"y":0.00014},{"b":"Oa08 (665nm)","x":62.9,"y":0.0002},{"b":"Oa08 (665nm)","x":67.51,"y":0.00025},{"b":"Oa08 (665nm)","x":70.05,"y":0.00032},{"b":"Oa08 (665nm)","x":72.12,"y":0.0001},{"b":"Oa08 (665nm)","x":73.96,"y":-0.00019},{"b":"Oa08 (665nm)","x":75.58,"y":-0.0004},{"b":"Oa08 (665nm)","x":77.65,"y":-0.00045},{"b":"Oa08 (665nm)","x":79.72,"y":-0.00056}
],
"nb": [
{"x":23.55,"n":31000},{"x":24.1,"n":1000000},{"x":24.8,"n":4000000},{"x":25.9,"n":7600000},{"x":27.3,"n":12600000},{"x":28.7,"n":21000000},{"x":30.6,"n":38000000},{"x":32.9,"n":56000000},{"x":35.2,"n":63000000},{"x":37.5,"n":60000000},{"x":39.8,"n":55000000},{"x":42.1,"n":47000000},{"x":44.4,"n":36000000},{"x":46.7,"n":30000000},{"x":50.1,"n":26000000},{"x":51.4,"n":26000000},{"x":53.7,"n":21000000},{"x":56,"n":18000000},{"x":58.3,"n":16000000},{"x":61.5,"n":15500000},{"x":62.9,"n":14000000},{"x":64.7,"n":9300000},{"x":66.6,"n":6200000},{"x":68.4,"n":5000000},{"x":69.8,"n":3400000},{"x":71.2,"n":2300000},{"x":72.8,"n":1100000},{"x":74.4,"n":550000},{"x":75.1,"n":580000},{"x":75.8,"n":460000},{"x":77.2,"n":135000},{"x":78.6,"n":33000},{"x":79.5,"n":12000},{"x":79.9,"n":6000}
],
"sc": [
{"b":"Oa01 (400nm)","x":0.000047,"y":-0.0001},{"b":"Oa01 (400nm)","x":0.000148,"y":-0.0003},{"b":"Oa01 (400nm)","x":0.000341,"y":-0.00017},{"b":"Oa01 (400nm)","x":0.000589,"y":0.00026},{"b":"Oa01 (400nm)","x":0.000728,"y":0.0001},{"b":"Oa01 (400nm)","x":0.000923,"y":-0.00017},{"b":"Oa01 (400nm)","x":0.001113,"y":0.00009},{"b":"Oa01 (400nm)","x":0.001345,"y":0.00016},{"b":"Oa01 (400nm)","x":0.001659,"y":-0.00004},{"b":"Oa01 (400nm)","x":0.001892,"y":-0.00056},{"b":"Oa01 (400nm)","x":0.002124,"y":-0.00102},{"b":"Oa01 (400nm)","x":0.002357,"y":-0.0005},{"b":"Oa01 (400nm)","x":0.002671,"y":-0.0005},{"b":"Oa01 (400nm)","x":0.002974,"y":-0.00056},{"b":"Oa01 (400nm)","x":0.003207,"y":-0.00043},{"b":"Oa01 (400nm)","x":0.003399,"y":-0.00076},{"b":"Oa01 (400nm)","x":0.003601,"y":-0.00083},{"b":"Oa01 (400nm)","x":0.003753,"y":-0.00106},{"b":"Oa01 (400nm)","x":0.003986,"y":-0.00083},{"b":"Oa01 (400nm)","x":0.004218,"y":-0.00043},{"b":"Oa01 (400nm)","x":0.004451,"y":-0.00063},{"b":"Oa01 (400nm)","x":0.004684,"y":-0.0005},{"b":"Oa01 (400nm)","x":0.004886,"y":-0.00072},{"b":"Oa01 (400nm)","x":0.005038,"y":-0.00066},{"b":"Oa01 (400nm)","x":0.00519,"y":-0.00098},{"b":"Oa01 (400nm)","x":0.005351,"y":-0.00075},{"b":"Oa01 (400nm)","x":0.005584,"y":-0.00066},{"b":"Oa01 (400nm)","x":0.005736,"y":-0.00083},{"b":"Oa01 (400nm)","x":0.005968,"y":-0.00059},{"b":"Oa01 (400nm)","x":0.006282,"y":-0.00052},{"b":"Oa01 (400nm)","x":0.006434,"y":-0.00059},{"b":"Oa01 (400nm)","x":0.006555,"y":-0.00096},{"b":"Oa01 (400nm)","x":0.006707,"y":-0.00088},{"b":"Oa01 (400nm)","x":0.006818,"y":-0.00075},{"b":"Oa01 (400nm)","x":0.00698,"y":-0.00111},{"b":"Oa01 (400nm)","x":0.007132,"y":-0.00127},{"b":"Oa01 (400nm)","x":0.007364,"y":-0.00092},{"b":"Oa01 (400nm)","x":0.007678,"y":-0.00118},{"b":"Oa01 (400nm)","x":0.007992,"y":-0.00122},{"b":"Oa01 (400nm)","x":0.008214,"y":-0.00135},{"b":"Oa01 (400nm)","x":0.008447,"y":-0.00138},{"b":"Oa01 (400nm)","x":0.00868,"y":-0.00125},{"b":"Oa01 (400nm)","x":0.008912,"y":-0.00131},{"b":"Oa01 (400nm)","x":0.009104,"y":-0.00148},{"b":"Oa01 (400nm)","x":0.009337,"y":-0.00125},{"b":"Oa01 (400nm)","x":0.00961,"y":-0.0018},{"b":"Oa01 (400nm)","x":0.009772,"y":-0.00174},{"b":"Oa01 (400nm)","x":0.009964,"y":-0.00157},
{"b":"Oa02 (413nm)","x":0.000047,"y":-0.00004},{"b":"Oa02 (413nm)","x":0.000148,"y":-0.0002},{"b":"Oa02 (413nm)","x":0.000589,"y":0.00029},{"b":"Oa02 (413nm)","x":0.000884,"y":-0.00017},{"b":"Oa02 (413nm)","x":0.001194,"y":0.00022},{"b":"Oa02 (413nm)","x":0.001426,"y":0.00012},{"b":"Oa02 (413nm)","x":0.001659,"y":-0.00004},{"b":"Oa02 (413nm)","x":0.001973,"y":-0.0007},{"b":"Oa02 (413nm)","x":0.002124,"y":-0.00096},{"b":"Oa02 (413nm)","x":0.002438,"y":-0.00043},{"b":"Oa02 (413nm)","x":0.002903,"y":-0.00043},{"b":"Oa02 (413nm)","x":0.003369,"y":-0.00056},{"b":"Oa02 (413nm)","x":0.003601,"y":-0.0007},{"b":"Oa02 (413nm)","x":0.003753,"y":-0.00096},{"b":"Oa02 (413nm)","x":0.003986,"y":-0.0007},{"b":"Oa02 (413nm)","x":0.004299,"y":-0.0003},{"b":"Oa02 (413nm)","x":0.004684,"y":-0.0003},{"b":"Oa02 (413nm)","x":0.004886,"y":-0.0005},{"b":"Oa02 (413nm)","x":0.00519,"y":-0.00079},{"b":"Oa02 (413nm)","x":0.005503,"y":-0.00059},{"b":"Oa02 (413nm)","x":0.005817,"y":-0.00066},{"b":"Oa02 (413nm)","x":0.006282,"y":-0.00033},{"b":"Oa02 (413nm)","x":0.006515,"y":-0.00046},{"b":"Oa02 (413nm)","x":0.006747,"y":-0.00059},{"b":"Oa02 (413nm)","x":0.00698,"y":-0.00066},{"b":"Oa02 (413nm)","x":0.007213,"y":-0.00085},{"b":"Oa02 (413nm)","x":0.007445,"y":-0.00066},{"b":"Oa02 (413nm)","x":0.007678,"y":-0.00072},{"b":"Oa02 (413nm)","x":0.007992,"y":-0.00092},{"b":"Oa02 (413nm)","x":0.008295,"y":-0.00111},{"b":"Oa02 (413nm)","x":0.008609,"y":-0.00105},{"b":"Oa02 (413nm)","x":0.008912,"y":-0.00105},{"b":"Oa02 (413nm)","x":0.009226,"y":-0.00098},{"b":"Oa02 (413nm)","x":0.009377,"y":-0.00092},{"b":"Oa02 (413nm)","x":0.00961,"y":-0.00131},{"b":"Oa02 (413nm)","x":0.009853,"y":-0.00144},{"b":"Oa02 (413nm)","x":0.009964,"y":-0.00131},
{"b":"Oa03 (443nm)","x":0.000047,"y":0.00022},{"b":"Oa03 (443nm)","x":0.000108,"y":-0.00056},{"b":"Oa03 (443nm)","x":0.000341,"y":-0.00043},{"b":"Oa03 (443nm)","x":0.000589,"y":-0.0002},{"b":"Oa03 (443nm)","x":0.000806,"y":-0.00037},{"b":"Oa03 (443nm)","x":0.000961,"y":-0.0005},{"b":"Oa03 (443nm)","x":0.001113,"y":-0.0003},{"b":"Oa03 (443nm)","x":0.001426,"y":-0.00037},{"b":"Oa03 (443nm)","x":0.001659,"y":-0.00041},{"b":"Oa03 (443nm)","x":0.001973,"y":-0.00083},{"b":"Oa03 (443nm)","x":0.002124,"y":-0.00096},{"b":"Oa03 (443nm)","x":0.002357,"y":-0.00063},{"b":"Oa03 (443nm)","x":0.002741,"y":-0.00067},{"b":"Oa03 (443nm)","x":0.003055,"y":-0.00067},{"b":"Oa03 (443nm)","x":0.003369,"y":-0.00083},{"b":"Oa03 (443nm)","x":0.003672,"y":-0.0008},{"b":"Oa03 (443nm)","x":0.003986,"y":-0.00076},{"b":"Oa03 (443nm)","x":0.004299,"y":-0.00063},{"b":"Oa03 (443nm)","x":0.004684,"y":-0.00056},{"b":"Oa03 (443nm)","x":0.004886,"y":-0.00079},{"b":"Oa03 (443nm)","x":0.005038,"y":-0.00075},{"b":"Oa03 (443nm)","x":0.00519,"y":-0.00096},{"b":"Oa03 (443nm)","x":0.005351,"y":-0.00072},{"b":"Oa03 (443nm)","x":0.005584,"y":-0.0007},{"b":"Oa03 (443nm)","x":0.005736,"y":-0.00085},{"b":"Oa03 (443nm)","x":0.005968,"y":-0.00059},{"b":"Oa03 (443nm)","x":0.006282,"y":-0.00052},{"b":"Oa03 (443nm)","x":0.006515,"y":-0.00059},{"b":"Oa03 (443nm)","x":0.006747,"y":-0.00079},{"b":"Oa03 (443nm)","x":0.00698,"y":-0.00075},{"b":"Oa03 (443nm)","x":0.007132,"y":-0.00085},{"b":"Oa03 (443nm)","x":0.007364,"y":-0.00066},{"b":"Oa03 (443nm)","x":0.007678,"y":-0.00098},{"b":"Oa03 (443nm)","x":0.007992,"y":-0.00105},{"b":"Oa03 (443nm)","x":0.008295,"y":-0.00098},{"b":"Oa03 (443nm)","x":0.008609,"y":-0.00096},{"b":"Oa03 (443nm)","x":0.008912,"y":-0.00098},{"b":"Oa03 (443nm)","x":0.009104,"y":-0.00111},{"b":"Oa03 (443nm)","x":0.009337,"y":-0.00079},{"b":"Oa03 (443nm)","x":0.00961,"y":-0.00118},{"b":"Oa03 (443nm)","x":0.009853,"y":-0.00125},{"b":"Oa03 (443nm)","x":0.009964,"y":-0.00114},
{"b":"Oa04 (490nm)","x":0.000047,"y":-0.00004},{"b":"Oa04 (490nm)","x":0.000341,"y":-0.00017},{"b":"Oa04 (490nm)","x":0.000884,"y":-0.00017},{"b":"Oa04 (490nm)","x":0.001659,"y":-0.0002},{"b":"Oa04 (490nm)","x":0.002043,"y":-0.00037},{"b":"Oa04 (490nm)","x":0.002438,"y":-0.00024},{"b":"Oa04 (490nm)","x":0.002903,"y":-0.00028},{"b":"Oa04 (490nm)","x":0.003369,"y":-0.00043},{"b":"Oa04 (490nm)","x":0.003986,"y":-0.00041},{"b":"Oa04 (490nm)","x":0.004886,"y":-0.00033},{"b":"Oa04 (490nm)","x":0.005655,"y":-0.00033},{"b":"Oa04 (490nm)","x":0.006434,"y":-0.00026},{"b":"Oa04 (490nm)","x":0.007213,"y":-0.00046},{"b":"Oa04 (490nm)","x":0.007992,"y":-0.00049},{"b":"Oa04 (490nm)","x":0.00868,"y":-0.00046},{"b":"Oa04 (490nm)","x":0.009539,"y":-0.00052},{"b":"Oa04 (490nm)","x":0.009964,"y":-0.00049},
{"b":"Oa05 (510nm)","x":0.000047,"y":0.00003},{"b":"Oa05 (510nm)","x":0.000884,"y":-0.0001},{"b":"Oa05 (510nm)","x":0.001659,"y":-0.00007},{"b":"Oa05 (510nm)","x":0.002438,"y":-0.00004},{"b":"Oa05 (510nm)","x":0.003369,"y":-0.0001},{"b":"Oa05 (510nm)","x":0.003986,"y":-0.00014},{"b":"Oa05 (510nm)","x":0.004886,"y":-0.0001},{"b":"Oa05 (510nm)","x":0.006434,"y":-0.00009},{"b":"Oa05 (510nm)","x":0.007992,"y":-0.00017},{"b":"Oa05 (510nm)","x":0.00868,"y":-0.00014},{"b":"Oa05 (510nm)","x":0.009539,"y":-0.00017},{"b":"Oa05 (510nm)","x":0.009964,"y":-0.00013},
{"b":"Oa06 (560nm)","x":0.000047,"y":0},{"b":"Oa06 (560nm)","x":0.000884,"y":-0.00007},{"b":"Oa06 (560nm)","x":0.001659,"y":-0.00004},{"b":"Oa06 (560nm)","x":0.002438,"y":-0.00004},{"b":"Oa06 (560nm)","x":0.003207,"y":-0.00001},{"b":"Oa06 (560nm)","x":0.004886,"y":-0.00001},{"b":"Oa06 (560nm)","x":0.006434,"y":-0.00003},{"b":"Oa06 (560nm)","x":0.008214,"y":0},{"b":"Oa06 (560nm)","x":0.008912,"y":0.00004},{"b":"Oa06 (560nm)","x":0.009226,"y":0.00012},{"b":"Oa06 (560nm)","x":0.009539,"y":0.00009},{"b":"Oa06 (560nm)","x":0.009772,"y":0.00014},{"b":"Oa06 (560nm)","x":0.009964,"y":0.00012},
{"b":"Oa07 (620nm)","x":0.00005,"y":0.00003},{"b":"Oa07 (620nm)","x":0.002,"y":0.00004},{"b":"Oa07 (620nm)","x":0.004,"y":0.00005},{"b":"Oa07 (620nm)","x":0.006,"y":0.00004},{"b":"Oa07 (620nm)","x":0.008,"y":0.00005},{"b":"Oa07 (620nm)","x":0.009964,"y":0.00004},
{"b":"Oa08 (665nm)","x":0.00005,"y":0.00001},{"b":"Oa08 (665nm)","x":0.002,"y":0.00002},{"b":"Oa08 (665nm)","x":0.004,"y":0.00001},{"b":"Oa08 (665nm)","x":0.006,"y":0.00002},{"b":"Oa08 (665nm)","x":0.008,"y":0.00001},{"b":"Oa08 (665nm)","x":0.009964,"y":0.00002}
],
"nc": [
{"x":0.00005,"n":1000000000},{"x":0.00009,"n":200000000},{"x":0.00011,"n":40000000},{"x":0.000186,"n":33000000},{"x":0.000342,"n":24000000},{"x":0.000612,"n":13000000},{"x":0.001,"n":8500000},{"x":0.00139,"n":6000000},{"x":0.00177,"n":5000000},{"x":0.00216,"n":4300000},{"x":0.00255,"n":3600000},{"x":0.00274,"n":2700000},{"x":0.00302,"n":3400000},{"x":0.00317,"n":2700000},{"x":0.00371,"n":2300000},{"x":0.00449,"n":2000000},{"x":0.00503,"n":1800000},{"x":0.0055,"n":1550000},{"x":0.00619,"n":1400000},{"x":0.00689,"n":1200000},{"x":0.00767,"n":1140000},{"x":0.00844,"n":1070000},{"x":0.00898,"n":1020000},{"x":0.00953,"n":1050000},{"x":0.00972,"n":870000},{"x":0.00984,"n":1020000}
]
},
"resolve": {"scale": {"x": "independent", "y": "independent", "color": "independent", "strokeDash": "independent"}},
"spacing": 36,
"vconcat": [
{
 "title": {"text": "(a)", "offset": -5},
 "width": 435, "height": 305,
 "resolve": {"scale": {"x": "independent", "y": "independent"}},
 "layer": [
  {"layer": [
    {"data": {"values": [{}]}, "mark": {"type": "rule", "color": "#000", "strokeWidth": 1}, "encoding": {"y": {"datum": 0, "type": "quantitative", "scale": {"domain": [-0.006, 0.006], "nice": false}}}},
    {"data": {"name": "sa"}, "mark": {"type": "line", "strokeWidth": 1.5, "clip": true},
     "encoding": {
      "x": {"field": "x", "type": "quantitative", "scale": {"domain": [0, 4860], "nice": false, "zero": false}, "axis": {"orient": "bottom", "values": [0,540,1080,1620,2160,2700,3240,3780,4320,4860], "format": "d", "tickSize": -7, "labelPadding": 8, "title": "Sample Number", "titleY": 26, "titleBaseline": "alphabetic"}},
      "y": {"field": "y", "type": "quantitative", "scale": {"domain": [-0.006, 0.006], "nice": false}, "axis": {"orient": "left", "values": [-0.006,-0.004,-0.002,0,0.002,0.004,0.006], "tickSize": -7, "labelPadding": 12, "labelExpr": "(datum.value < 0 ? '-' : '') + format(abs(datum.value), '.3~f')", "title": "Δρ", "titleFontSize": 21, "titleAngle": 270, "titleX": -37, "titleY": 160, "titleBaseline": "alphabetic", "titleAlign": "center"}},
      "color": {"field": "b", "type": "nominal", "scale": {"domain": ["Oa01 (400nm)","Oa02 (413nm)","Oa03 (443nm)","Oa04 (490nm)","Oa05 (510nm)","Oa06 (560nm)","Oa07 (620nm)","Oa08 (665nm)"], "range": ["#3d1d6e","#7b2cc9","#1414f0","#1e90ff","#00ffff","#22e000","#cc8822","#ff2020"]}, "legend": {"orient": "none", "legendX": 31, "legendY": 171, "title": null, "symbolType": "stroke", "symbolSize": 400, "symbolStrokeWidth": 1.6, "labelFontSize": 12.5, "labelColor": "#000", "labelOffset": 9, "strokeColor": "#555", "fillColor": "#fff", "padding": 3, "rowPadding": 1.5, "clipHeight": 13.5, "cornerRadius": 0}},
      "strokeDash": {"field": "b", "type": "nominal", "scale": {"domain": ["Oa01 (400nm)","Oa02 (413nm)","Oa03 (443nm)","Oa04 (490nm)","Oa05 (510nm)","Oa06 (560nm)","Oa07 (620nm)","Oa08 (665nm)"], "range": [[1,0],[7,4],[1,0],[7,4],[1,0],[7,4],[1,0],[7,4]]}, "legend": {"orient": "none", "legendX": 31, "legendY": 171, "title": null, "symbolType": "stroke", "symbolSize": 400, "symbolStrokeWidth": 1.6, "labelFontSize": 12.5, "labelColor": "#000", "labelOffset": 9, "strokeColor": "#555", "fillColor": "#fff", "padding": 3, "rowPadding": 1.5, "clipHeight": 13.5, "cornerRadius": 0}}
     }}
  ]},
  {"data": {"name": "na"}, "mark": {"type": "line", "color": "#000", "strokeWidth": 1.4, "strokeDash": [8,3,2,3], "clip": true},
   "encoding": {
    "x": {"field": "x", "type": "quantitative", "scale": {"domain": [0, 4860], "nice": false, "zero": false}, "axis": {"orient": "top", "values": [0,540,1080,1620,2160,2700,3240,3780,4320,4860], "labels": false, "tickSize": -7, "title": null}},
    "y": {"field": "n", "type": "quantitative", "scale": {"type": "log", "domain": [1, 100000000], "nice": false}, "axis": {"orient": "right", "values": [1,10,100,1000,10000,100000,1000000,10000000,100000000], "tickSize": -7, "labelPadding": 11, "labelExpr": "'10' + substring('⁰¹²³⁴⁵⁶⁷⁸⁹', round(log(datum.value)/LN10), round(log(datum.value)/LN10) + 1)", "title": "Number of Data Points", "titleAngle": 270, "titleX": 44, "titleY": 152.5, "titleBaseline": "alphabetic", "titleAlign": "center"}}
   }},
  {"data": {"values": [{}]}, "mark": {"type": "point", "opacity": 0},
   "encoding": {
    "x": {"datum": 0, "type": "quantitative", "scale": {"domain": [0, 4860], "nice": false, "zero": false}, "axis": {"orient": "bottom", "values": [270,810,1350,1890,2430,2970,3510,4050,4590], "labels": false, "tickSize": -3.5, "title": null}},
    "y": {"datum": 0, "type": "quantitative", "scale": {"domain": [-0.006, 0.006], "nice": false}, "axis": {"orient": "left", "values": [-0.005,-0.003,-0.001,0.001,0.003,0.005], "labels": false, "tickSize": -3.5, "title": "wN", "titleFontSize": 13, "titleAngle": 270, "titleX": -29, "titleY": 139, "titleBaseline": "alphabetic", "titleAlign": "center"}}
   }},
  {"data": {"values": [{}]}, "mark": {"type": "point", "opacity": 0},
   "encoding": {
    "x": {"datum": 0, "type": "quantitative", "scale": {"domain": [0, 4860], "nice": false, "zero": false}, "axis": {"orient": "top", "values": [270,810,1350,1890,2430,2970,3510,4050,4590], "labels": false, "tickSize": -3.5, "title": null}},
    "y": {"datum": 1, "type": "quantitative", "scale": {"type": "log", "domain": [1, 100000000], "nice": false}, "axis": {"orient": "right", "values": [2,3,4,5,6,7,8,9,20,30,40,50,60,70,80,90,200,300,400,500,600,700,800,900,2000,3000,4000,5000,6000,7000,8000,9000,20000,30000,40000,50000,60000,70000,80000,90000,200000,300000,400000,500000,600000,700000,800000,900000,2000000,3000000,4000000,5000000,6000000,7000000,8000000,9000000,20000000,30000000,40000000,50000000,60000000,70000000,80000000,90000000], "labels": false, "tickSize": -3.5, "title": null}}
   }}
 ]
},
{
 "title": {"text": "(b)", "offset": -5},
 "width": 435, "height": 305,
 "resolve": {"scale": {"x": "independent", "y": "independent"}},
 "layer": [
  {"layer": [
    {"data": {"values": [{}]}, "mark": {"type": "rect", "color": "#c8c8c8"}, "encoding": {"x": {"datum": 70, "type": "quantitative", "scale": {"domain": [20, 80], "nice": false, "zero": false}}, "x2": {"datum": 80}}},
    {"data": {"values": [{}]}, "mark": {"type": "rule", "color": "#808080", "strokeWidth": 1.5}, "encoding": {"y": {"datum": 0, "type": "quantitative", "scale": {"domain": [-0.01, 0.01], "nice": false}}}},
    {"data": {"name": "sb"}, "mark": {"type": "line", "strokeWidth": 1.5, "clip": true},
     "encoding": {
      "x": {"field": "x", "type": "quantitative", "scale": {"domain": [20, 80], "nice": false, "zero": false}, "axis": {"orient": "bottom", "values": [20,30,40,50,60,70,80], "format": "d", "tickSize": -7, "labelPadding": 8, "title": "Solar-Zenith Angle", "titleY": 26, "titleBaseline": "alphabetic"}},
      "y": {"field": "y", "type": "quantitative", "scale": {"domain": [-0.01, 0.01], "nice": false}, "axis": {"orient": "left", "values": [-0.01,-0.008,-0.006,-0.004,-0.002,0,0.002,0.004,0.006,0.008,0.01], "tickSize": -7, "labelPadding": 12, "labelExpr": "(datum.value < 0 ? '-' : '') + format(abs(datum.value), '.3~f')", "title": "Δρ", "titleFontSize": 21, "titleAngle": 270, "titleX": -37, "titleY": 152, "titleBaseline": "alphabetic", "titleAlign": "center"}},
      "color": {"field": "b", "type": "nominal", "scale": {"domain": ["Oa01 (400nm)","Oa02 (413nm)","Oa03 (443nm)","Oa04 (490nm)","Oa05 (510nm)","Oa06 (560nm)","Oa07 (620nm)","Oa08 (665nm)"], "range": ["#3d1d6e","#7b2cc9","#1414f0","#1e90ff","#00ffff","#22e000","#cc8822","#ff2020"]}, "legend": {"orient": "none", "legendX": 22, "legendY": 169, "title": null, "symbolType": "stroke", "symbolSize": 400, "symbolStrokeWidth": 1.6, "labelFontSize": 12.5, "labelColor": "#000", "labelOffset": 9, "strokeColor": "#555", "fillColor": "#fff", "padding": 3, "rowPadding": 1.5, "clipHeight": 13.5, "cornerRadius": 0}},
      "strokeDash": {"field": "b", "type": "nominal", "scale": {"domain": ["Oa01 (400nm)","Oa02 (413nm)","Oa03 (443nm)","Oa04 (490nm)","Oa05 (510nm)","Oa06 (560nm)","Oa07 (620nm)","Oa08 (665nm)"], "range": [[1,0],[7,4],[1,0],[7,4],[1,0],[7,4],[1,0],[7,4]]}, "legend": {"orient": "none", "legendX": 22, "legendY": 169, "title": null, "symbolType": "stroke", "symbolSize": 400, "symbolStrokeWidth": 1.6, "labelFontSize": 12.5, "labelColor": "#000", "labelOffset": 9, "strokeColor": "#555", "fillColor": "#fff", "padding": 3, "rowPadding": 1.5, "clipHeight": 13.5, "cornerRadius": 0}}
     }}
  ]},
  {"data": {"name": "nb"}, "mark": {"type": "line", "color": "#000", "strokeWidth": 1.4, "strokeDash": [8,3,2,3], "clip": true},
   "encoding": {
    "x": {"field": "x", "type": "quantitative", "scale": {"domain": [20, 80], "nice": false, "zero": false}, "axis": {"orient": "top", "values": [20,30,40,50,60,70,80], "labels": false, "tickSize": -7, "title": null}},
    "y": {"field": "n", "type": "quantitative", "scale": {"type": "log", "domain": [1, 100000000], "nice": false}, "axis": {"orient": "right", "values": [1,10,100,1000,10000,100000,1000000,10000000,100000000], "tickSize": -7, "labelPadding": 11, "labelExpr": "'10' + substring('⁰¹²³⁴⁵⁶⁷⁸⁹', round(log(datum.value)/LN10), round(log(datum.value)/LN10) + 1)", "title": "Number of Data Points", "titleAngle": 270, "titleX": 44, "titleY": 152.5, "titleBaseline": "alphabetic", "titleAlign": "center"}}
   }},
  {"data": {"values": [{}]}, "mark": {"type": "point", "opacity": 0},
   "encoding": {
    "x": {"datum": 20, "type": "quantitative", "scale": {"domain": [20, 80], "nice": false, "zero": false}, "axis": {"orient": "bottom", "values": [25,35,45,55,65,75], "labels": false, "tickSize": -3.5, "title": null}},
    "y": {"datum": 0, "type": "quantitative", "scale": {"domain": [-0.01, 0.01], "nice": false}, "axis": {"orient": "left", "values": [-0.009,-0.007,-0.005,-0.003,-0.001,0.001,0.003,0.005,0.007,0.009], "labels": false, "tickSize": -3.5, "title": "wN", "titleFontSize": 13, "titleAngle": 270, "titleX": -29, "titleY": 131, "titleBaseline": "alphabetic", "titleAlign": "center"}}
   }},
  {"data": {"values": [{}]}, "mark": {"type": "point", "opacity": 0},
   "encoding": {
    "x": {"datum": 20, "type": "quantitative", "scale": {"domain": [20, 80], "nice": false, "zero": false}, "axis": {"orient": "top", "values": [25,35,45,55,65,75], "labels": false, "tickSize": -3.5, "title": null}},
    "y": {"datum": 1, "type": "quantitative", "scale": {"type": "log", "domain": [1, 100000000], "nice": false}, "axis": {"orient": "right", "values": [2,3,4,5,6,7,8,9,20,30,40,50,60,70,80,90,200,300,400,500,600,700,800,900,2000,3000,4000,5000,6000,7000,8000,9000,20000,30000,40000,50000,60000,70000,80000,90000,200000,300000,400000,500000,600000,700000,800000,900000,2000000,3000000,4000000,5000000,6000000,7000000,8000000,9000000,20000000,30000000,40000000,50000000,60000000,70000000,80000000,90000000], "labels": false, "tickSize": -3.5, "title": null}}
   }}
 ]
},
{
 "title": {"text": "(c)", "offset": -5},
 "width": 435, "height": 305,
 "resolve": {"scale": {"x": "independent", "y": "independent"}},
 "layer": [
  {"layer": [
    {"data": {"values": [{}]}, "mark": {"type": "rule", "color": "#000", "strokeWidth": 1}, "encoding": {"y": {"datum": 0, "type": "quantitative", "scale": {"domain": [-0.006, 0.006], "nice": false}}}},
    {"data": {"name": "sc"}, "mark": {"type": "line", "strokeWidth": 1.5, "clip": true},
     "encoding": {
      "x": {"field": "x", "type": "quantitative", "scale": {"domain": [0, 0.0101], "nice": false, "zero": false}, "axis": {"orient": "bottom", "values": [0,0.002,0.004,0.006,0.008,0.01], "labelExpr": "format(datum.value, '.3~f')", "tickSize": -7, "labelPadding": 8, "title": "Glint Coefficient (sr⁻¹)", "titleY": 38, "titleBaseline": "alphabetic"}},
      "y": {"field": "y", "type": "quantitative", "scale": {"domain": [-0.006, 0.006], "nice": false}, "axis": {"orient": "left", "values": [-0.006,-0.004,-0.002,0,0.002,0.004,0.006], "tickSize": -7, "labelPadding": 12, "labelExpr": "(datum.value < 0 ? '-' : '') + format(abs(datum.value), '.3~f')", "title": "Δρ", "titleFontSize": 21, "titleAngle": 270, "titleX": -37, "titleY": 156, "titleBaseline": "alphabetic", "titleAlign": "center"}},
      "color": {"field": "b", "type": "nominal", "scale": {"domain": ["Oa01 (400nm)","Oa02 (413nm)","Oa03 (443nm)","Oa04 (490nm)","Oa05 (510nm)","Oa06 (560nm)","Oa07 (620nm)","Oa08 (665nm)"], "range": ["#3d1d6e","#7b2cc9","#1414f0","#1e90ff","#00ffff","#22e000","#cc8822","#ff2020"]}, "legend": {"orient": "none", "legendX": 22, "legendY": 195, "title": null, "symbolType": "stroke", "symbolSize": 361, "symbolStrokeWidth": 1.6, "labelFontSize": 11.5, "labelColor": "#000", "labelOffset": 5, "strokeColor": "#555", "fillColor": "#fff", "padding": 2, "rowPadding": -1.5, "clipHeight": 10.8, "cornerRadius": 0}},
      "strokeDash": {"field": "b", "type": "nominal", "scale": {"domain": ["Oa01 (400nm)","Oa02 (413nm)","Oa03 (443nm)","Oa04 (490nm)","Oa05 (510nm)","Oa06 (560nm)","Oa07 (620nm)","Oa08 (665nm)"], "range": [[1,0],[7,4],[1,0],[7,4],[1,0],[7,4],[1,0],[7,4]]}, "legend": {"orient": "none", "legendX": 22, "legendY": 195, "title": null, "symbolType": "stroke", "symbolSize": 361, "symbolStrokeWidth": 1.6, "labelFontSize": 11.5, "labelColor": "#000", "labelOffset": 5, "strokeColor": "#555", "fillColor": "#fff", "padding": 2, "rowPadding": -1.5, "clipHeight": 10.8, "cornerRadius": 0}}
     }}
  ]},
  {"data": {"name": "nc"}, "mark": {"type": "line", "color": "#000", "strokeWidth": 1.4, "strokeDash": [8,3,2,3], "clip": true},
   "encoding": {
    "x": {"field": "x", "type": "quantitative", "scale": {"domain": [0, 0.0101], "nice": false, "zero": false}, "axis": {"orient": "top", "values": [0,0.002,0.004,0.006,0.008,0.01], "labels": false, "tickSize": -7, "title": null}},
    "y": {"field": "n", "type": "quantitative", "scale": {"type": "log", "domain": [1, 1000000000], "nice": false}, "axis": {"orient": "right", "values": [1,10,100,1000,10000,100000,1000000,10000000,100000000,1000000000], "tickSize": -7, "labelPadding": 11, "labelExpr": "'10' + substring('⁰¹²³⁴⁵⁶⁷⁸⁹', round(log(datum.value)/LN10), round(log(datum.value)/LN10) + 1)", "title": "Number of Data Points", "titleAngle": 270, "titleX": 44, "titleY": 152.5, "titleBaseline": "alphabetic", "titleAlign": "center"}}
   }},
  {"data": {"values": [{}]}, "mark": {"type": "point", "opacity": 0},
   "encoding": {
    "x": {"datum": 0, "type": "quantitative", "scale": {"domain": [0, 0.0101], "nice": false, "zero": false}, "axis": {"orient": "bottom", "values": [0.001,0.003,0.005,0.007,0.009], "labels": false, "tickSize": -3.5, "title": null}},
    "y": {"datum": 0, "type": "quantitative", "scale": {"domain": [-0.006, 0.006], "nice": false}, "axis": {"orient": "left", "values": [-0.005,-0.003,-0.001,0.001,0.003,0.005], "labels": false, "tickSize": -3.5, "title": "wN", "titleFontSize": 13, "titleAngle": 270, "titleX": -29, "titleY": 135, "titleBaseline": "alphabetic", "titleAlign": "center"}}
   }},
  {"data": {"values": [{}]}, "mark": {"type": "point", "opacity": 0},
   "encoding": {
    "x": {"datum": 0, "type": "quantitative", "scale": {"domain": [0, 0.0101], "nice": false, "zero": false}, "axis": {"orient": "top", "values": [0.001,0.003,0.005,0.007,0.009], "labels": false, "tickSize": -3.5, "title": null}},
    "y": {"datum": 1, "type": "quantitative", "scale": {"type": "log", "domain": [1, 1000000000], "nice": false}, "axis": {"orient": "right", "values": [2,3,4,5,6,7,8,9,20,30,40,50,60,70,80,90,200,300,400,500,600,700,800,900,2000,3000,4000,5000,6000,7000,8000,9000,20000,30000,40000,50000,60000,70000,80000,90000,200000,300000,400000,500000,600000,700000,800000,900000,2000000,3000000,4000000,5000000,6000000,7000000,8000000,9000000,20000000,30000000,40000000,50000000,60000000,70000000,80000000,90000000,200000000,300000000,400000000,500000000,600000000,700000000,800000000,900000000], "labels": false, "tickSize": -3.5, "title": null}}
   }}
 ]
}
]
}
